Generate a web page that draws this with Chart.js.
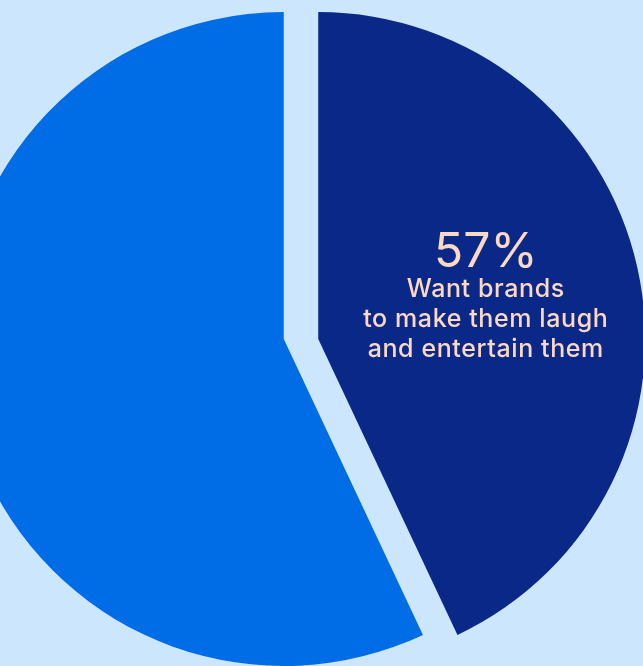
<!DOCTYPE html>
<html>
<head>
<meta charset="utf-8">
<script src="https://cdn.jsdelivr.net/npm/chart.js@4"></script>
<style>
  html, body {
    margin: 0;
    padding: 0;
    width: 643px;
    height: 666px;
    overflow: hidden;
    background: #cce6fd;
  }
  #pie-wrap {
    position: absolute;
    left: -49px;
    top: 12px;
  }
</style>
</head>
<body>
<div id="pie-wrap">
  <canvas id="pie" width="700" height="654"></canvas>
</div>
<script>
// survey split
const labels = ['Other respondents', 'Want brands to make them laugh and entertain them'];
const values = [43, 57];
const colors = ['#0a2888', '#006ce6'];
const captionLines = ['Want brands', 'to make them laugh', 'and entertain them'];

const HALF_GAP = 17.25; // slices pulled apart sideways
const TEXT_COLOR = '#fdd9c3';

// pull the two slices apart horizontally instead of along the mid angle
const splitSlices = {
  id: 'splitSlices',
  afterDatasetsUpdate(chart) {
    const meta = chart.getDatasetMeta(0);
    const cx = (chart.chartArea.left + chart.chartArea.right) / 2;
    meta.data[0].x = cx + HALF_GAP;
    meta.data[1].x = cx - HALF_GAP;
  }
};

// big percentage and caption sitting inside the dark slice
const caption = {
  id: 'caption',
  afterDatasetsDraw(chart) {
    const ctx = chart.ctx;
    const arc = chart.getDatasetMeta(0).data[0];
    const mid = (arc.startAngle + arc.endAngle) / 2;
    const x = arc.x + Math.cos(mid) * arc.outerRadius * 0.525;
    const y = arc.y + Math.sin(mid) * arc.outerRadius * 0.525;

    ctx.save();
    ctx.fillStyle = TEXT_COLOR;
    ctx.textAlign = 'center';
    ctx.textBaseline = 'alphabetic';
    ctx.font = '400 48px Inter';
    ctx.fillText(values[1] + '%', x, y - 35);
    ctx.font = '500 25px Inter';
    ctx.letterSpacing = '0.6px';
    captionLines.forEach((line, i) => {
      ctx.fillText(line, x, y - 5 + i * 30);
    });
    ctx.restore();
  }
};

new Chart(document.getElementById('pie'), {
  type: 'pie',
  data: {
    labels: labels,
    datasets: [{
      data: values,
      backgroundColor: colors,
      borderWidth: 0,
      hoverOffset: 0
    }]
  },
  options: {
    responsive: false,
    animation: false,
    events: [],
    layout: { padding: 0 },
    plugins: {
      legend: { display: false },
      tooltip: { enabled: false }
    }
  },
  plugins: [splitSlices, caption]
});
</script>
</body>
</html>
